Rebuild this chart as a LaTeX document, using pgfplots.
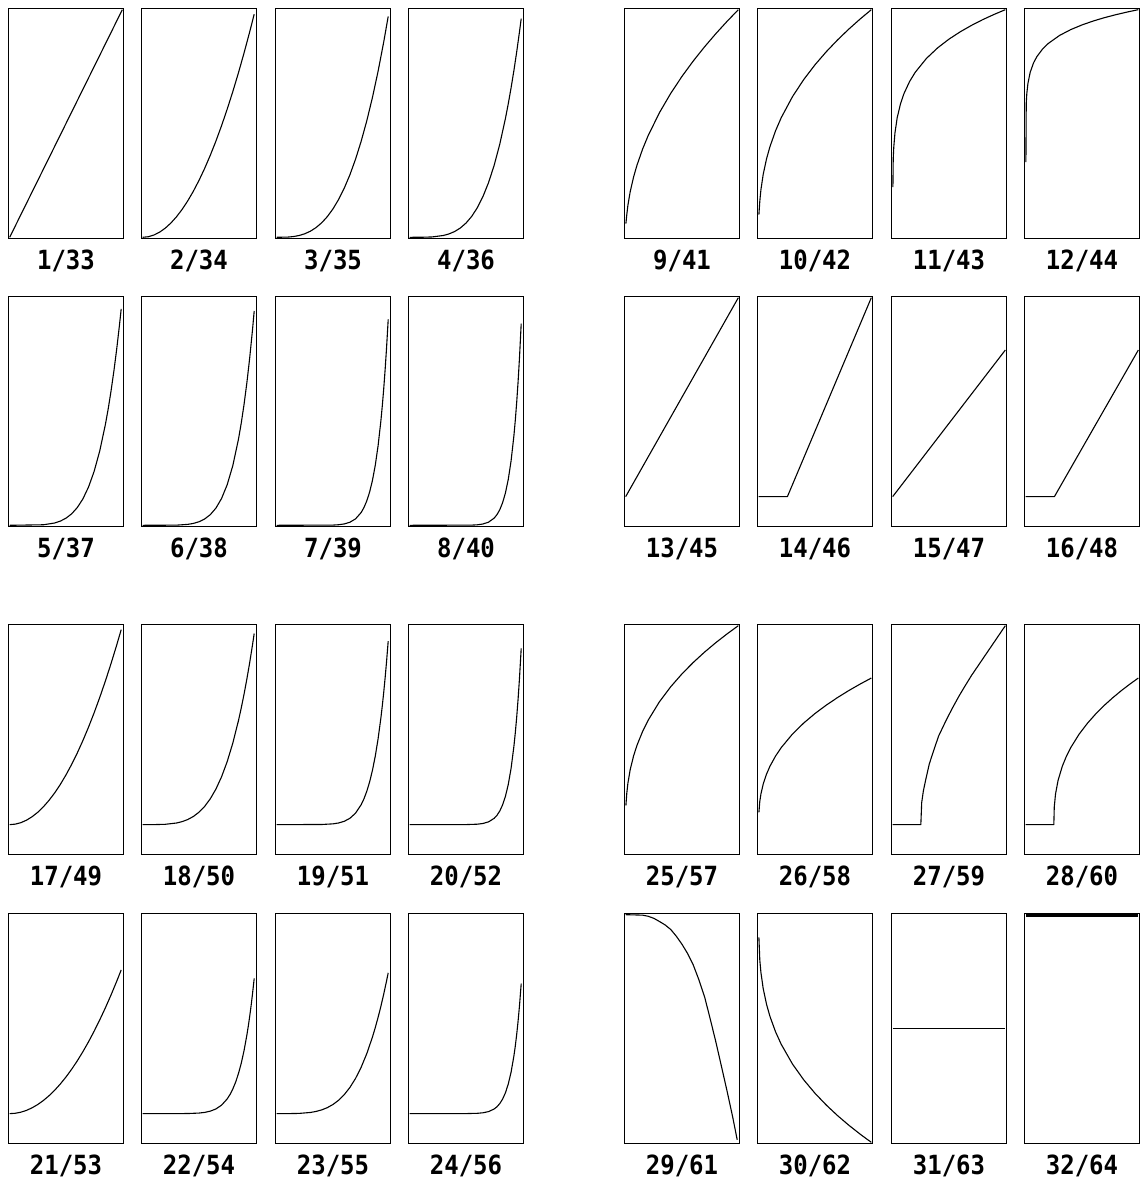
\documentclass[border=0pt]{standalone}
\usepackage{fontspec}
\usepackage{graphicx}
\usepackage{pgfplots}
\pgfplotsset{compat=1.18}
\newfontfamily\labfont{DejaVu Sans Mono}
\pgfplotsset{
  panel/.style={anchor=south west, scale only axis, width=115pt, height=230pt,
    xmin=-0.0104, xmax=1.0104, ymin=-0.0052, ymax=1.0052, ticks=none,
    axis line style={line width=1.5pt, black}},
}
\tikzset{curve/.style={black, line width=1.1pt, line join=round, mark=none},
  lab/.style={anchor=base, font=\labfont\bfseries\fontsize{24}{24}\selectfont, inner sep=0pt}}
\newcommand\panel[5][]{%
  \begin{axis}[panel, at={(#2pt,#3pt)}]
    \addplot[curve,#1] coordinates {#5};
  \end{axis}
  \node[lab] at (#2pt+57.5pt,#3pt-31.5pt) {\scalebox{1}[1.1]{#4}};
}
\begin{document}
\begin{tikzpicture}
\path[use as bounding box] (0,0) rectangle (1143pt,1189pt);
% ---- left block, rows 1-2: panels 1-8
\panel{8.5}{950.5}{1/33}{(0,0)(1,1)}
\panel{141.5}{950.5}{2/34}{(0,0)(0.05,0.0025)(0.1,0.01)(0.15,0.0225)(0.2,0.04)(0.25,0.0625)(0.3,0.09)(0.35,0.1225)(0.4,0.16)(0.45,0.2025)(0.5,0.25)(0.55,0.3025)(0.6,0.36)(0.65,0.4225)(0.7,0.49)(0.75,0.5625)(0.8,0.64)(0.85,0.7225)(0.9,0.81)(0.95,0.9025)(0.99,0.9801)}
\panel{275.5}{950.5}{3/35}{(0,0)(0.1,0.001)(0.15,0.0034)(0.2,0.008)(0.25,0.0156)(0.3,0.027)(0.35,0.0429)(0.4,0.064)(0.45,0.0911)(0.5,0.125)(0.55,0.1664)(0.6,0.216)(0.65,0.2746)(0.7,0.343)(0.75,0.4219)(0.8,0.512)(0.85,0.6141)(0.9,0.729)(0.95,0.8574)(0.99,0.9703)}
\panel{408.5}{950.5}{4/36}{(0,0)(0.1,0.0001)(0.2,0.0016)(0.3,0.0081)(0.35,0.015)(0.4,0.0256)(0.45,0.041)(0.5,0.0625)(0.55,0.0915)(0.6,0.1296)(0.65,0.1785)(0.7,0.2401)(0.75,0.3164)(0.8,0.4096)(0.85,0.522)(0.875,0.5862)(0.9,0.6561)(0.925,0.7321)(0.95,0.8145)(0.975,0.9037)(0.99,0.9606)}
\panel{8.5}{662.5}{5/37}{(0,0)(0.3,0.0024)(0.4,0.0102)(0.45,0.0185)(0.5,0.0313)(0.55,0.0503)(0.6,0.0778)(0.65,0.116)(0.7,0.1681)(0.75,0.2373)(0.8,0.3277)(0.85,0.4437)(0.875,0.5129)(0.9,0.5905)(0.925,0.6772)(0.95,0.7738)(0.975,0.8811)(0.99,0.951)}
\panel{141.5}{662.5}{6/38}{(0,0)(0.3,0.0007)(0.4,0.0041)(0.45,0.0083)(0.5,0.0156)(0.55,0.0277)(0.6,0.0467)(0.65,0.0754)(0.7,0.1176)(0.75,0.178)(0.8,0.2621)(0.85,0.3772)(0.875,0.4488)(0.9,0.5314)(0.925,0.6264)(0.95,0.7351)(0.975,0.8591)(0.99,0.9415)}
\panel{275.5}{662.5}{7/39}{(0,0)(0.5,0.001)(0.55,0.0025)(0.6,0.006)(0.65,0.0135)(0.7,0.0282)(0.75,0.0563)(0.775,0.0782)(0.8,0.1074)(0.825,0.146)(0.85,0.1969)(0.875,0.2631)(0.9,0.3487)(0.925,0.4586)(0.9375,0.5245)(0.95,0.5987)(0.9625,0.6823)(0.975,0.7763)(0.99,0.9044)}
\panel{408.5}{662.5}{8/40}{(0,0)(0.55,0.0008)(0.6,0.0022)(0.65,0.0057)(0.7,0.0138)(0.75,0.0317)(0.775,0.0469)(0.8,0.0687)(0.825,0.0994)(0.85,0.1422)(0.875,0.2014)(0.9,0.2824)(0.925,0.3924)(0.9375,0.4609)(0.95,0.5404)(0.9625,0.6321)(0.975,0.738)(0.99,0.8864)}
% ---- right block, rows 1-2: panels 9-16
\panel{624.5}{950.5}{9/41}{(0.002,0.06)(0.01,0.1)(0.02,0.1414)(0.04,0.2)(0.07,0.2646)(0.1,0.3162)(0.15,0.3873)(0.2,0.4472)(0.3,0.5477)(0.4,0.6325)(0.5,0.7071)(0.6,0.7746)(0.7,0.8367)(0.8,0.8944)(0.9,0.9487)(1,1)}
\panel{757.5}{950.5}{10/42}{(0.002,0.10)(0.01,0.1585)(0.02,0.2091)(0.04,0.2759)(0.07,0.3452)(0.1,0.3981)(0.15,0.4682)(0.2,0.5253)(0.3,0.6178)(0.4,0.6931)(0.5,0.7579)(0.6,0.8152)(0.7,0.867)(0.8,0.9146)(0.9,0.9587)(1,1)}
\panel{891.5}{950.5}{11/43}{(0.002,0.22)(0.005,0.3466)(0.01,0.3981)(0.02,0.4573)(0.04,0.5253)(0.07,0.5875)(0.1,0.631)(0.15,0.6843)(0.2,0.7248)(0.3,0.786)(0.4,0.8326)(0.5,0.8706)(0.6,0.9029)(0.7,0.9311)(0.8,0.9564)(0.9,0.9791)(1,1)}
\panel{1024.5}{950.5}{12/44}{(0.002,0.33)(0.005,0.5887)(0.01,0.631)(0.02,0.6762)(0.04,0.7248)(0.07,0.7665)(0.1,0.7943)(0.15,0.8272)(0.2,0.8513)(0.3,0.8866)(0.4,0.9124)(0.5,0.933)(0.6,0.9502)(0.7,0.965)(0.8,0.9779)(0.9,0.9895)(1,1)}
\panel{624.5}{662.5}{13/45}{(0,0.126)(1,1)}
\panel{757.5}{662.5}{14/46}{(0,0.126)(0.255,0.126)(1,1)}
\panel{891.5}{662.5}{15/47}{(0,0.126)(1,0.77)}
\panel{1024.5}{662.5}{16/48}{(0,0.126)(0.255,0.126)(1,0.77)}
% ---- left block, rows 3-4: panels 17-24
\panel{8.5}{334.5}{17/49}{(0,0.126)(0.05,0.1282)(0.1,0.1347)(0.15,0.1457)(0.2,0.161)(0.25,0.1806)(0.3,0.2047)(0.35,0.2331)(0.4,0.2658)(0.45,0.303)(0.5,0.3445)(0.55,0.3904)(0.6,0.4406)(0.65,0.4953)(0.7,0.5543)(0.75,0.6176)(0.8,0.6854)(0.85,0.7575)(0.9,0.8339)(0.95,0.9148)(0.99,0.9826)}
\panel{141.5}{334.5}{18/50}{(0,0.126)(0.1,0.1261)(0.2,0.1274)(0.3,0.1331)(0.35,0.1391)(0.4,0.1484)(0.45,0.1618)(0.5,0.1806)(0.55,0.206)(0.6,0.2393)(0.65,0.282)(0.7,0.3358)(0.75,0.4025)(0.8,0.484)(0.85,0.5822)(0.875,0.6383)(0.9,0.6994)(0.925,0.7659)(0.95,0.8379)(0.975,0.9158)(0.99,0.9656)}
\panel{275.5}{334.5}{19/51}{(0,0.126)(0.4,0.1266)(0.5,0.1294)(0.55,0.1333)(0.6,0.1407)(0.65,0.1539)(0.7,0.1763)(0.75,0.2135)(0.775,0.2397)(0.8,0.2727)(0.825,0.3136)(0.85,0.3642)(0.875,0.4263)(0.9,0.5023)(0.925,0.5945)(0.9375,0.6475)(0.95,0.7058)(0.9625,0.7697)(0.975,0.8398)(0.99,0.9324)}
\panel{408.5}{334.5}{20/52}{(0,0.126)(0.5,0.1262)(0.6,0.1279)(0.65,0.131)(0.7,0.1381)(0.75,0.1537)(0.775,0.167)(0.8,0.186)(0.825,0.2129)(0.85,0.2503)(0.875,0.302)(0.9,0.3728)(0.925,0.469)(0.9375,0.5288)(0.95,0.5983)(0.9625,0.6785)(0.975,0.771)(0.99,0.9007)}
\panel{8.5}{45.5}{21/53}{(0,0.126)(0.05,0.1276)(0.1,0.1324)(0.15,0.1405)(0.2,0.1518)(0.25,0.1663)(0.3,0.184)(0.35,0.2049)(0.4,0.229)(0.45,0.2564)(0.5,0.287)(0.55,0.3208)(0.6,0.3578)(0.65,0.3981)(0.7,0.4416)(0.75,0.4883)(0.8,0.5382)(0.85,0.5913)(0.9,0.6476)(0.95,0.7072)(0.99,0.7572)}
\panel{141.5}{45.5}{22/54}{(0,0.126)(0.4,0.1264)(0.5,0.1285)(0.55,0.1314)(0.6,0.1368)(0.65,0.1465)(0.7,0.1631)(0.75,0.1905)(0.775,0.2098)(0.8,0.2341)(0.825,0.2642)(0.85,0.3015)(0.875,0.3473)(0.9,0.4032)(0.925,0.4712)(0.9375,0.5103)(0.95,0.5532)(0.9625,0.6003)(0.975,0.652)(0.99,0.7202)}
\panel{275.5}{45.5}{23/55}{(0,0.126)(0.1,0.1261)(0.2,0.127)(0.3,0.1312)(0.35,0.1357)(0.4,0.1425)(0.45,0.1524)(0.5,0.1663)(0.55,0.1849)(0.6,0.2095)(0.65,0.241)(0.7,0.2806)(0.75,0.3298)(0.8,0.3898)(0.85,0.4622)(0.875,0.5035)(0.9,0.5485)(0.925,0.5975)(0.95,0.6505)(0.975,0.708)(0.99,0.7446)}
\panel{408.5}{45.5}{24/56}{(0,0.126)(0.5,0.1262)(0.6,0.1274)(0.65,0.1297)(0.7,0.1349)(0.75,0.1464)(0.775,0.1562)(0.8,0.1702)(0.825,0.19)(0.85,0.2176)(0.875,0.2557)(0.9,0.3079)(0.925,0.3787)(0.9375,0.4228)(0.95,0.474)(0.9625,0.5331)(0.975,0.6013)(0.99,0.6968)}
% ---- right block, rows 3-4: panels 25-32
\panel{624.5}{334.5}{25/57}{(0.002,0.21)(0.01,0.2645)(0.02,0.3088)(0.04,0.3671)(0.07,0.4277)(0.1,0.4739)(0.15,0.5352)(0.2,0.5851)(0.3,0.666)(0.4,0.7318)(0.5,0.7884)(0.6,0.8385)(0.7,0.8838)(0.8,0.9254)(0.9,0.9639)(1,1)}
\panel{757.5}{334.5}{26/58}{(0.002,0.18)(0.01,0.2281)(0.02,0.2607)(0.04,0.3037)(0.07,0.3483)(0.1,0.3824)(0.15,0.4275)(0.2,0.4643)(0.3,0.5239)(0.4,0.5724)(0.5,0.6141)(0.6,0.651)(0.7,0.6843)(0.8,0.715)(0.9,0.7434)(1,0.77)}
\panel{891.5}{334.5}{27/59}{(0,0.126)(0.25,0.126)(0.2575,0.2221)(0.2725,0.2746)(0.295,0.327)(0.325,0.3926)(0.3625,0.4494)(0.4075,0.5149)(0.475,0.5849)(0.5275,0.6355)(0.5875,0.6897)(0.64,0.7334)(0.7,0.7815)(0.76,0.8252)(0.82,0.8689)(0.88,0.9126)(0.94,0.9563)(1,1)}
\panel{1024.5}{334.5}{28/60}{(0,0.126)(0.25,0.126)(0.25375,0.2033)(0.265,0.2607)(0.2875,0.3203)(0.325,0.3824)(0.3625,0.4275)(0.4,0.4643)(0.475,0.5239)(0.55,0.5724)(0.625,0.6141)(0.7,0.651)(0.775,0.6843)(0.85,0.715)(0.925,0.7434)(1,0.77)}
\panel{624.5}{45.5}{29/61}{(0,1)(0.15,0.998)(0.2,0.993)(0.25,0.984)(0.3,0.97)(0.35,0.955)(0.4,0.935)(0.45,0.905)(0.5,0.87)(0.55,0.829)(0.6,0.779)(0.65,0.714)(0.7,0.64)(0.75,0.543)(0.8,0.442)(0.85,0.334)(0.9,0.225)(0.95,0.111)(0.99,0.011)}
\panel{757.5}{45.5}{30/62}{(0.002,0.9)(0.01,0.8005)(0.02,0.7457)(0.04,0.6759)(0.07,0.6057)(0.1,0.5533)(0.15,0.4852)(0.2,0.4307)(0.3,0.3439)(0.4,0.2744)(0.5,0.2154)(0.6,0.1637)(0.7,0.1174)(0.8,0.0751)(0.9,0.0362)(0.95,0.0178)(1,0)}
\panel{891.5}{45.5}{31/63}{(0,0.5)(1,0.5)}
\panel[line width=2.4pt]{1024.5}{45.5}{32/64}{(0,0.997)(1,0.997)}
\end{tikzpicture}
\end{document}
